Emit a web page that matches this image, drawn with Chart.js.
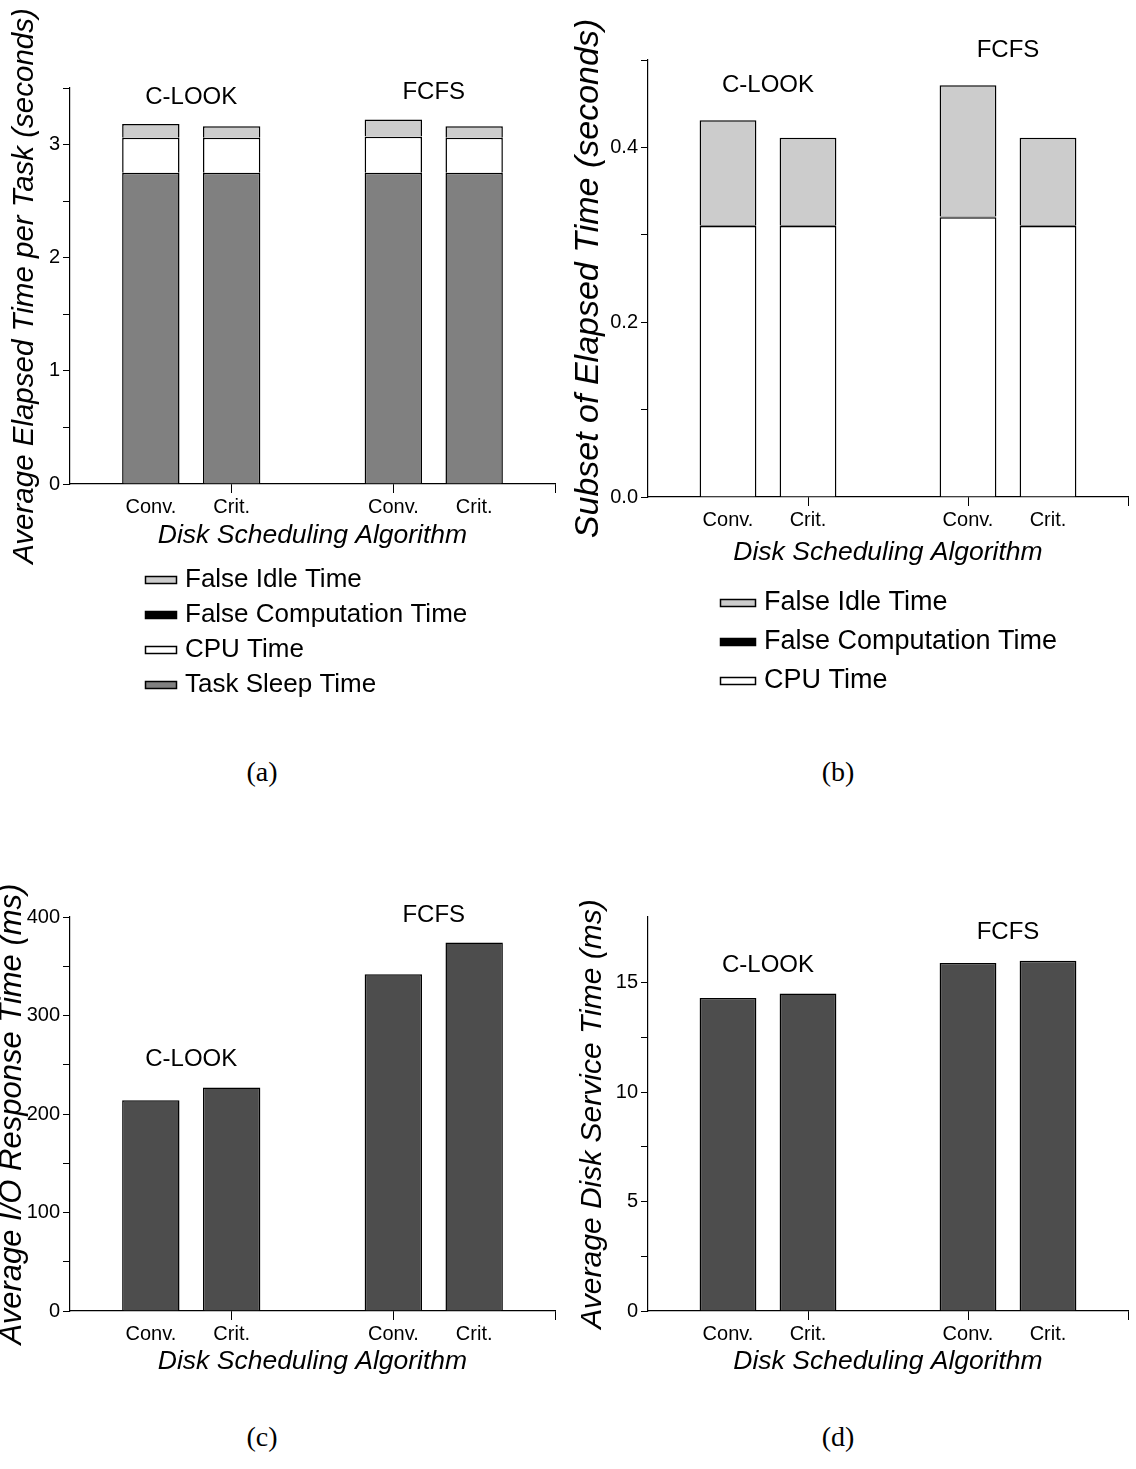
<!DOCTYPE html>
<html>
<head>
<meta charset="utf-8">
<script src="https://cdn.jsdelivr.net/npm/chart.js"></script>
<style>
  body { margin: 0; background: #fff; }
  #page { position: relative; width: 1136px; height: 1469px; background: #fff; overflow: hidden; }
  canvas { position: absolute; }
  .cap { position: absolute; width: 100px; text-align: center; font-family: 'Liberation Serif', serif; font-size: 28px; line-height: 28px; }
</style>
</head>
<body>
<div id="page">
  <canvas id="chartA" width="568" height="720" style="left:0;top:0"></canvas>
  <canvas id="chartB" width="568" height="720" style="left:568px;top:0"></canvas>
  <canvas id="chartC" width="568" height="540" style="left:0;top:860px"></canvas>
  <canvas id="chartD" width="568" height="540" style="left:568px;top:860px"></canvas>
  <div class="cap" style="left:212px;top:758px">(a)</div>
  <div class="cap" style="left:788px;top:758px">(b)</div>
  <div class="cap" style="left:212px;top:1423px">(c)</div>
  <div class="cap" style="left:788px;top:1423px">(d)</div>
</div>
<script>
    // x slots: empty edge, C-LOOK pair, empty gap, FCFS pair, empty edge
    const slotLabels = ['', 'Conv.', 'Crit.', '', 'Conv.', 'Crit.', ''];
    const groupNames = ['C-LOOK', 'FCFS'];

    // bar order: C-LOOK Conv., C-LOOK Crit., FCFS Conv., FCFS Crit.
    const taskSleep = [2.75, 2.75, 2.75, 2.75];
    const cpuTime = [0.31, 0.31, 0.32, 0.31];
    const falseComputation = [0.001, 0.001, 0.001, 0.001];
    const falseIdle = [0.12, 0.10, 0.15, 0.10];
    const ioResponse = [214, 227, 342, 374];
    const diskService = [14.3, 14.5, 15.9, 16.0];

    const slots = v => [null, v[0], v[1], null, v[2], v[3], null];

    Chart.defaults.font.family = "'Liberation Sans', Arial, sans-serif";
    Chart.defaults.color = '#000';

    // group names written above each pair of bars
    const groupLabels = {
        id: 'groupLabels',
        afterDraw(chart, args, opts) {
            const ctx = chart.ctx;
            ctx.save();
            ctx.font = '24px ' + Chart.defaults.font.family;
            ctx.fillStyle = '#000';
            ctx.textAlign = 'center';
            ctx.textBaseline = 'middle';
            opts.items.forEach(it => {
                ctx.fillText(it.text, chart.scales.x.getPixelForValue(it.x), chart.scales.y.getPixelForValue(it.y));
            });
            ctx.restore();
        }
    };

    // vertical legend under the chart, top item = last dataset
    const stackLegend = {
        id: 'stackLegend',
        afterDraw(chart, args, opts) {
            if (!opts.show) return;
            const ctx = chart.ctx;
            ctx.save();
            ctx.font = opts.fontSize + 'px ' + Chart.defaults.font.family;
            ctx.textBaseline = 'middle';
            const sets = chart.data.datasets.slice().reverse();
            sets.forEach((ds, i) => {
                const y = Math.round(opts.top + i * opts.rowGap);
                ctx.fillStyle = ds.backgroundColor;
                ctx.fillRect(opts.left, y - opts.boxH / 2, opts.boxW, opts.boxH);
                ctx.strokeStyle = '#000';
                ctx.lineWidth = 1.5;
                ctx.strokeRect(opts.left + 0.5, y - opts.boxH / 2 + 0.5, opts.boxW - 1, opts.boxH - 1);
                ctx.fillStyle = '#000';
                ctx.fillText(ds.label, opts.left + opts.boxW + 8, y);
            });
            ctx.restore();
        }
    };

    function barSet(label, values, color) {
        return {
            label: label,
            data: slots(values),
            backgroundColor: color,
            borderColor: '#000',
            borderWidth: 1.5,
            barPercentage: 0.71,
            categoryPercentage: 1.0
        };
    }

    function baseOptions(p) {
        return {
            responsive: false,
            animation: false,
            layout: { padding: p.padding },
            plugins: {
                legend: { display: false },
                tooltip: { enabled: false },
                groupLabels: { items: p.groups },
                stackLegend: p.legend || { show: false }
            },
            scales: {
                x: {
                    stacked: true,
                    offset: false,
                    afterFit: s => { s.height = p.xHeight; },
                    grid: {
                        offset: false,
                        drawOnChartArea: false,
                        tickLength: 9,
                        tickColor: c => (c.index === 2 || c.index === 4 || c.index === 6) ? '#000' : 'rgba(0,0,0,0)'
                    },
                    border: { color: '#000', width: 1.2 },
                    ticks: { font: { size: 20 }, padding: 2, maxRotation: 0, autoSkip: false },
                    title: {
                        display: true,
                        text: 'Disk Scheduling Algorithm',
                        font: { size: 26.5, style: 'italic' },
                        padding: { top: 0, bottom: p.xTitlePad }
                    }
                },
                y: {
                    stacked: true,
                    min: 0,
                    max: p.max,
                    afterFit: s => { s.width = p.yWidth; },
                    afterBuildTicks: s => { s.ticks = s.ticks.filter(t => t.value <= p.max + 1e-9); },
                    grid: {
                        drawOnChartArea: false,
                        tickLength: 7,
                        tickColor: c => p.minorOk(c.tick.value) ? '#000' : 'rgba(0,0,0,0)'
                    },
                    border: { color: '#000', width: 1.2 },
                    ticks: {
                        stepSize: p.step,
                        autoSkip: false,
                        font: { size: 20 },
                        padding: 3,
                        callback: p.tickText
                    },
                    title: {
                        display: true,
                        text: p.yTitle,
                        font: { size: p.yTitleSize, style: 'italic', lineHeight: p.yTitleLH },
                        padding: { top: p.yTitlePad, bottom: 0 }
                    }
                }
            }
        };
    }

    const near = (v, m) => Math.abs(v / m - Math.round(v / m)) < 1e-6;

    // (a) elapsed time per task
    new Chart(document.getElementById('chartA'), {
        type: 'bar',
        data: {
            labels: slotLabels,
            datasets: [
                barSet('Task Sleep Time', taskSleep, '#808080'),
                barSet('CPU Time', cpuTime, '#ffffff'),
                barSet('False Computation Time', falseComputation, '#000000'),
                barSet('False Idle Time', falseIdle, '#cccccc')
            ]
        },
        options: baseOptions({
            padding: { top: 88, right: 13, bottom: 166, left: 0 },
            xHeight: 70, xTitlePad: 2, yWidth: 70,
            max: 3.5, step: 0.5,
            minorOk: v => near(v, 0.5),
            tickText: v => near(v, 1) ? String(Math.round(v)) : '',
            yTitle: 'Average Elapsed Time per Task (seconds)', yTitleSize: 29.5, yTitleLH: 1.2, yTitlePad: 7,
            groups: [
                { text: groupNames[0], x: 1.5, y: 3.42 },
                { text: groupNames[1], x: 4.5, y: 3.46 }
            ],
            legend: { show: true, left: 145, top: 580, rowGap: 35, boxW: 32, boxH: 8, fontSize: 26 }
        }),
        plugins: [groupLabels, stackLegend]
    });

    // (b) subset of elapsed time
    new Chart(document.getElementById('chartB'), {
        type: 'bar',
        data: {
            labels: slotLabels,
            datasets: [
                barSet('CPU Time', cpuTime, '#ffffff'),
                barSet('False Computation Time', falseComputation, '#000000'),
                barSet('False Idle Time', falseIdle, '#cccccc')
            ]
        },
        options: baseOptions({
            padding: { top: 60, right: 8, bottom: 151, left: 0 },
            xHeight: 72, xTitlePad: 0, yWidth: 80,
            max: 0.5, step: 0.1,
            minorOk: v => near(v, 0.1),
            tickText: v => near(v, 0.2) ? v.toFixed(1) : '',
            yTitle: 'Subset of Elapsed Time (seconds)', yTitleSize: 34, yTitleLH: 1.0, yTitlePad: 4,
            groups: [
                { text: groupNames[0], x: 1.5, y: 0.471 },
                { text: groupNames[1], x: 4.5, y: 0.511 }
            ],
            legend: { show: true, left: 152, top: 603, rowGap: 39, boxW: 36, boxH: 8, fontSize: 27 }
        }),
        plugins: [groupLabels, stackLegend]
    });

    // (c) average I/O response time
    new Chart(document.getElementById('chartC'), {
        type: 'bar',
        data: {
            labels: slotLabels,
            datasets: [barSet('I/O Response Time', ioResponse, '#4d4d4d')]
        },
        options: baseOptions({
            padding: { top: 57, right: 13, bottom: 19, left: 0 },
            xHeight: 70, xTitlePad: 3, yWidth: 70,
            max: 400, step: 50,
            minorOk: v => near(v, 50),
            tickText: v => near(v, 100) ? String(Math.round(v)) : '',
            yTitle: 'Average I/O Response Time (ms)', yTitleSize: 31, yTitleLH: 0.8, yTitlePad: 0,
            groups: [
                { text: groupNames[0], x: 1.5, y: 255 },
                { text: groupNames[1], x: 4.5, y: 402 }
            ]
        }),
        plugins: [groupLabels]
    });

    // (d) average disk service time
    new Chart(document.getElementById('chartD'), {
        type: 'bar',
        data: {
            labels: slotLabels,
            datasets: [barSet('Disk Service Time', diskService, '#4d4d4d')]
        },
        options: baseOptions({
            padding: { top: 57, right: 8, bottom: 19, left: 0 },
            xHeight: 70, xTitlePad: 3, yWidth: 80,
            max: 18, step: 2.5,
            minorOk: v => near(v, 2.5),
            tickText: v => near(v, 5) ? String(Math.round(v)) : '',
            yTitle: 'Average Disk Service Time (ms)', yTitleSize: 30, yTitleLH: 1.2, yTitlePad: 7,
            groups: [
                { text: groupNames[0], x: 1.5, y: 15.8 },
                { text: groupNames[1], x: 4.5, y: 17.3 }
            ]
        }),
        plugins: [groupLabels]
    });
</script>
</body>
</html>
